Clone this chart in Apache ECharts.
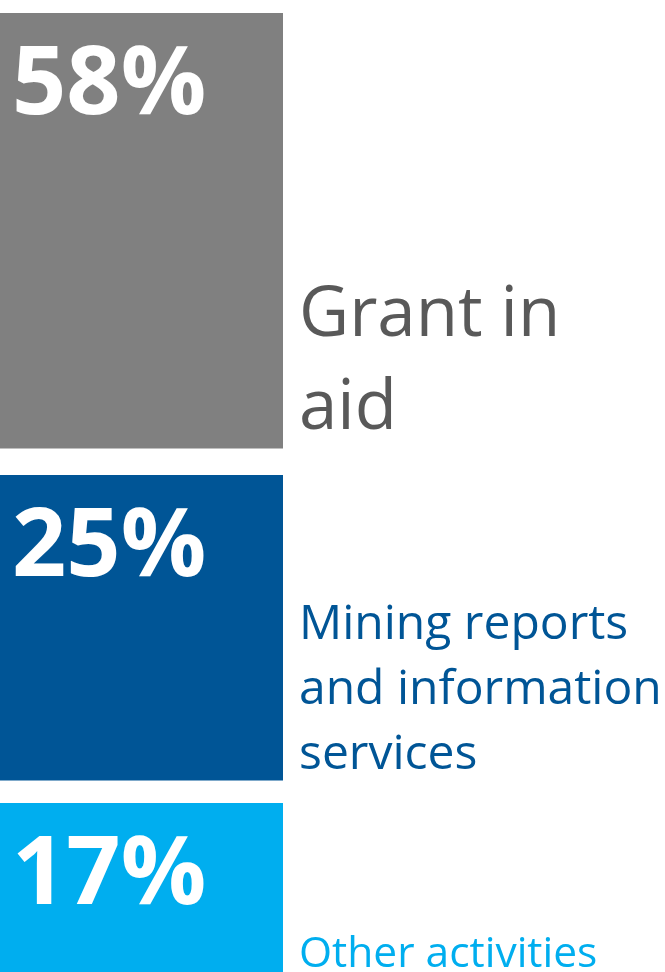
<!DOCTYPE html>
<html>
<head>
<meta charset="utf-8">
<script src="https://cdn.jsdelivr.net/npm/echarts@6/dist/echarts.min.js"></script>
<style>
html,body{margin:0;padding:0;background:#fff;}
#chart{width:665px;height:972px;}
</style>
</head>
<body>
<div id="chart"></div>
<script>
// Data
const categories = ['Grant in\naid', 'Mining reports\nand information\nservices', 'Other activities'];
const shares = [58, 25, 17];
// block spans along the vertical layout axis (layout units, top = 0)
const blockStart = [13, 475, 803];
const blockEnd = [448.5, 780.5, 976];

const blockColors = ['#808080', '#005596', '#00AEEF'];
const labelColors = ['#595959', '#005596', '#00AEEF'];
const labelSizes = [69, 48, 42.5];
const labelLineHeights = [93, 65, 56];

const seriesData = categories.map((c, i) => [blockStart[i], blockEnd[i], shares[i], i]);

const chart = echarts.init(document.getElementById('chart'), null, {renderer: 'canvas'});
const FONT = '"Open Sans", "Noto Sans", sans-serif';

chart.setOption({
  animation: false,
  grid: {left: 0, right: 0, top: 0, bottom: 0},
  xAxis: {type: 'value', min: 0, max: 1, show: false},
  yAxis: {type: 'value', min: 0, max: 972, inverse: true, show: false},
  series: [{
    type: 'custom',
    clip: false,
    data: seriesData,
    encode: {y: [0, 1]},
    renderItem: function (params, api) {
      const i = api.value(3);
      const y0 = api.coord([0, api.value(0)])[1];
      const y1 = api.coord([0, api.value(1)])[1];
      const x0 = api.coord([0, 0])[0];
      const w = 283;
      return {
        type: 'group',
        children: [
          {
            type: 'rect',
            shape: {x: x0, y: y0, width: w, height: y1 - y0},
            style: {fill: blockColors[i]}
          },
          {
            type: 'text',
            style: {
              x: x0 + 12, y: y0 + 26,
              text: api.value(2) + '%',
              fill: '#ffffff',
              font: 'bold 95px ' + FONT,
              lineHeight: 95,
              verticalAlign: 'top', align: 'left'
            }
          },
          {
            type: 'text',
            style: {
              x: x0 + w + 16, y: y1 + 7,
              text: categories[i],
              fill: labelColors[i],
              fontSize: labelSizes[i],
              fontFamily: FONT,
              lineHeight: labelLineHeights[i],
              verticalAlign: 'bottom', align: 'left'
            }
          }
        ]
      };
    }
  }]
});
</script>
</body>
</html>
